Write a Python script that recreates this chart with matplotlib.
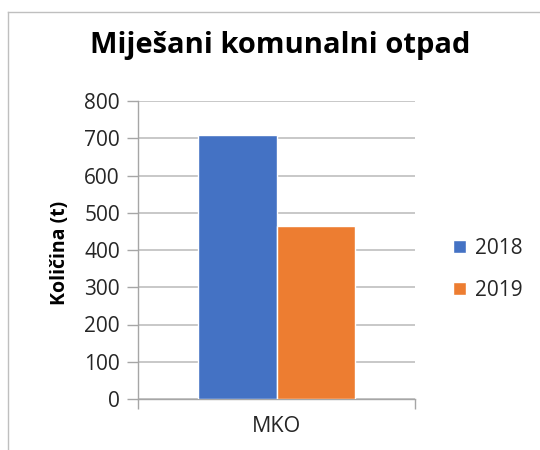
import matplotlib.pyplot as plt
from matplotlib.lines import Line2D

plt.rcParams['font.family'] = ['Open Sans', 'DejaVu Sans']

title = 'Miješani komunalni otpad'
ylabel = 'Količina (t)'
category = 'MKO'
years = ['2018', '2019']
values = [710, 465]
colors = ['#4472C4', '#ED7D31']
yticks = list(range(0, 900, 100))

fig = plt.figure(figsize=(5.4, 4.5), dpi=100)
ax = fig.add_axes([138 / 540, 1 - 399 / 450, 277 / 540, 298 / 450])

width = 0.282
offsets = [-width / 2, width / 2]
for yr, val, col, off in zip(years, values, colors, offsets):
    ax.bar(off, val, width=width, color=col, edgecolor='white', linewidth=1,
           label=yr, zorder=3)

ax.set_xlim(-0.5, 0.5)
ax.set_ylim(0, 800)
ax.set_yticks(yticks)
ax.set_yticklabels([str(t) for t in yticks])
ax.yaxis.grid(True, color='#bfbfbf', linewidth=1.2, zorder=0)
ax.set_axisbelow(True)

ax.set_xticks([0])
ax.set_xticklabels([category])
ax.set_xticks([-0.5, 0.5], minor=True)
ax.tick_params(axis='x', which='major', length=0, pad=12, labelsize=15.5, colors='#262626')
ax.tick_params(axis='x', which='minor', length=7, color='#a6a6a6', width=1)
ax.tick_params(axis='y', length=8, color='#a6a6a6', width=1, labelsize=15,
               labelcolor='#262626', pad=5)

for s in ['top', 'right']:
    ax.spines[s].set_visible(False)
for s in ['left', 'bottom']:
    ax.spines[s].set_color('#a6a6a6')
    ax.spines[s].set_linewidth(1)

fig.text(60 / 540, 1 - 253 / 450, ylabel, rotation=90, ha='center', va='center',
         fontsize=14, fontweight='bold')
fig.text(280 / 540, 1 - 46 / 450, title, ha='center', va='center',
         fontsize=21, fontweight='bold')

ax.legend(loc='center left', bbox_to_anchor=(1.07, 0.435), frameon=False,
          fontsize=15, handlelength=0.6, handleheight=0.55, handletextpad=0.45,
          labelspacing=1.0, labelcolor='#262626')

# outer chart frame (only left and top visible in crop)
fig.add_artist(Line2D([8 / 540, 8 / 540], [0, 1 - 12 / 450], color='#bfbfbf', linewidth=1))
fig.add_artist(Line2D([8 / 540, 1], [1 - 12 / 450, 1 - 12 / 450], color='#bfbfbf', linewidth=1))

fig.savefig('out.png', dpi=100)
